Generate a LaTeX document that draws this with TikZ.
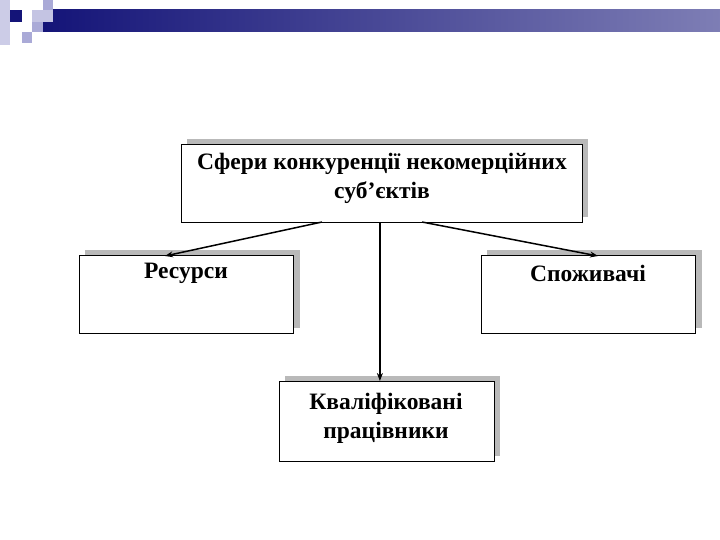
\documentclass[tikz,border=0pt]{standalone}
\usepackage{fontspec}
\setmainfont{Liberation Serif}
\usetikzlibrary{arrows.meta}
\definecolor{navy}{RGB}{20,20,120}
\definecolor{lav}{RGB}{170,170,215}
\definecolor{shade}{RGB}{185,185,185}
\begin{document}
\begin{tikzpicture}[x=1pt,y=-1pt,
  box/.style={draw=black,fill=white,line width=0.8pt},
  shadowbox/.style={fill=shade},
  lbl/.style={font=\fontsize{23.5}{29}\selectfont\bfseries,align=center},
  arr/.style={line width=1.5pt,-{Stealth[length=8pt,width=6pt]}}]
\useasboundingbox (0,0) rectangle (720,540);
% header decoration
\shade[left color=navy,right color=navy!55!white] (43,10) rectangle (720,32);
\fill[lav!60] (0,0) rectangle (10,45);
\fill[navy] (10,10) rectangle (22,22);
\fill[lav!70] (32,10) rectangle (53,22);
\fill[lav] (43,0) rectangle (53,10);
\fill[lav] (32,22) rectangle (43,32);
\fill[lav] (22,32) rectangle (32,43);
% shadows
\fill[shadowbox] (187,139) rectangle (588,217);
\fill[shadowbox] (85,250) rectangle (300,328);
\fill[shadowbox] (487,250) rectangle (702,328);
\fill[shadowbox] (285,376) rectangle (500,456);
% boxes
\node[box,minimum width=401pt,minimum height=78pt,anchor=north west] (top) at (181,144) {};
\node[box,minimum width=214pt,minimum height=78pt,anchor=north west] (res) at (79,255) {};
\node[box,minimum width=214pt,minimum height=78pt,anchor=north west] (con) at (481,255) {};
\node[box,minimum width=215pt,minimum height=80pt,anchor=north west] (kv) at (279,381) {};
% labels
\node[lbl] (tl) at (382,178) {Сфери конкуренції некомерційних\\суб’єктів};
\node[lbl] (rl) at (186,273) {Ресурси};
\node[lbl] (cl) at (588,273) {Споживачі};
\node[lbl] (kl) at (386,418) {Кваліфіковані\\працівники};
% connectors
\coordinate (a1) at (322,222);
\coordinate (a2) at (422,222);
\draw[arr] (a1) -- (165,256);
\draw[arr] (top.south -| kv.north) ++(-7,0) -- ([xshift=-7pt]kv.north);
\draw[arr] (a2) -- (598,256);
\end{tikzpicture}
\end{document}
